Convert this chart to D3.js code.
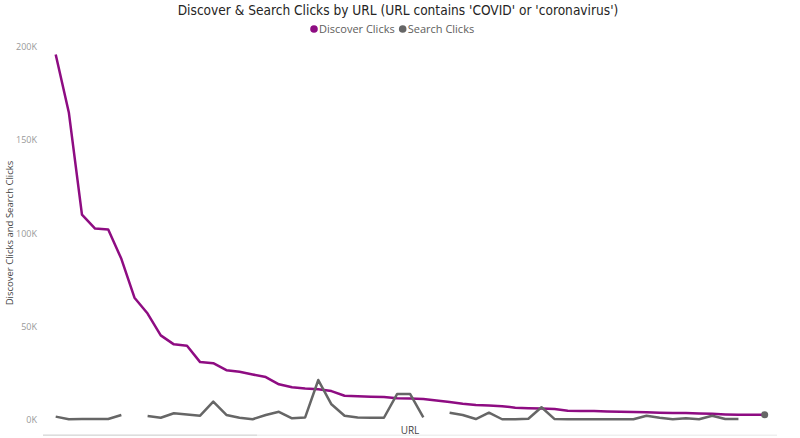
<!DOCTYPE html>
<html>

<head>
  <meta charset="utf-8">
  <title>Discover & Search Clicks by URL</title>
  <script type="text/javascript" src="https://cdn.jsdelivr.net/npm/d3@7"></script>
  <style>
    body { margin: 0; background: #fff; }
    svg { display: block; }
  </style>
</head>

<body>
  <script type="text/javascript">
    // Size of the page
    const w = 800;
    const h = 438;

    // Data (clicks per URL, sorted by Discover clicks)
    const urls = d3.range(1, 56).map(function (i) { return "URL " + i; });

    const discoverClicks = [
      195700, 164700, 110000, 102500, 102000, 86300, 65500, 57000, 45300, 40500,
      39800, 31000, 30400, 26700, 25800, 24400, 23000, 19100, 17500, 16900,
      16500, 15500, 13000, 12700, 12500, 12300, 11600, 11500, 11300, 10400,
      9600, 8700, 8000, 7800, 7400, 6600, 6300, 6100, 5900, 5000,
      4800, 4800, 4600, 4400, 4300, 4100, 3900, 3800, 3700, 3500,
      3300, 3000, 2800, 2800, 2800
    ];

    // null = no search clicks recorded (gap in the line)
    const searchClicks = [
      1800, 400, 500, 500, 500, 2700, null, 2100, 1200, 3600,
      3000, 2300, 9800, 2700, 1200, 400, 2700, 4400, 900, 1400,
      21400, 8400, 2300, 1400, 1200, 1200, 13900, 13900, 1400, null,
      3900, 2700, 500, 3900, 400, 400, 700, 6800, 500, 400,
      400, 400, 400, 400, 400, 2300, 1200, 400, 900, 400,
      2300, 500, 500, null, 2800
    ];

    const yTicks = [0, 50000, 100000, 150000, 200000];

    const seriesNames = ["Discover Clicks", "Search Clicks"];
    const seriesColors = ["#8E0C82", "#666666"];

    // Scales
    const xScale = d3.scalePoint()
      .domain(urls)
      .range([55.7, 764.7]);

    const yScale = d3.scaleLinear()
      .domain([0, 200000])
      .range([420, 46.5]);

    const svg = d3.select("body")
      .append("svg")
      .attr("width", w)
      .attr("height", h);

    // Title
    svg.append("text")
      .attr("x", 398)
      .attr("y", 15)
      .attr("text-anchor", "middle")
      .style("font-family", "'Liberation Sans Narrow', 'DejaVu Sans Condensed', sans-serif")
      .style("font-size", "13.6px")
      .style("fill", "#252423")
      .text("Discover & Search Clicks by URL (URL contains 'COVID' or 'coronavirus')");

    // Legend
    const legend = svg.append("g")
      .attr("transform", "translate(314, 29)");

    let lx = 0;
    seriesNames.forEach(function (name, i) {
      const g = legend.append("g").attr("transform", "translate(" + lx + ",0)");
      g.append("circle")
        .attr("cx", 0)
        .attr("cy", 0)
        .attr("r", 3.8)
        .attr("fill", seriesColors[i]);
      const t = g.append("text")
        .attr("x", 5)
        .attr("y", 4)
        .style("font-family", "'Open Sans', sans-serif")
        .style("font-size", "11px")
        .style("fill", "#605E5C")
        .text(name);
      lx += 5 + t.node().getComputedTextLength() + 8;
    });

    // Y axis
    const yAxis = d3.axisLeft(yScale)
      .tickValues(yTicks)
      .tickSize(0)
      .tickPadding(0)
      .tickFormat(function (d) { return d / 1000 + "K"; });

    svg.append("g")
      .attr("transform", "translate(37,0)")
      .call(yAxis)
      .call(function (g) { g.select(".domain").remove(); })
      .selectAll("text")
      .style("font-family", "'Open Sans', sans-serif")
      .style("font-size", "9px")
      .style("fill", "#999999");

    // Axis titles
    svg.append("text")
      .attr("transform", "translate(13,233) rotate(-90)")
      .attr("text-anchor", "middle")
      .style("font-family", "'Open Sans', sans-serif")
      .style("font-size", "9.5px")
      .style("fill", "#444")
      .text("Discover Clicks and Search Clicks");

    svg.append("text")
      .attr("x", 410)
      .attr("y", 434)
      .attr("text-anchor", "middle")
      .style("font-family", "'Open Sans', sans-serif")
      .style("font-size", "10px")
      .style("fill", "#444")
      .text("URL");

    // Scrollbar under the plot
    svg.append("rect")
      .attr("x", 43).attr("y", 434.5)
      .attr("width", 734).attr("height", 1.5)
      .attr("fill", "#EFEFEF");
    svg.append("rect")
      .attr("x", 43).attr("y", 434.5)
      .attr("width", 214).attr("height", 1.5)
      .attr("fill", "#DDDDDD");

    // Lines
    const series = [discoverClicks, searchClicks];

    const line = d3.line()
      .defined(function (d) { return d != null; })
      .x(function (d, i) { return xScale(urls[i]); })
      .y(function (d) { return yScale(d); });

    series.forEach(function (values, s) {
      svg.append("path")
        .datum(values)
        .attr("fill", "none")
        .attr("stroke", seriesColors[s])
        .attr("stroke-width", 2.5)
        .attr("stroke-linejoin", "round")
        .attr("d", line);

      // isolated points get a marker, like the last search value
      svg.selectAll(".dot" + s)
        .data(values.map(function (v, i) { return { v: v, i: i }; })
          .filter(function (d) {
            return d.v != null &&
              (d.i === 0 || values[d.i - 1] == null) &&
              (d.i === values.length - 1 || values[d.i + 1] == null);
          }))
        .enter()
        .append("circle")
        .attr("cx", function (d) { return xScale(urls[d.i]); })
        .attr("cy", function (d) { return yScale(d.v); })
        .attr("r", 3.5)
        .attr("fill", seriesColors[s]);
    });
  </script>
</body>

</html>
